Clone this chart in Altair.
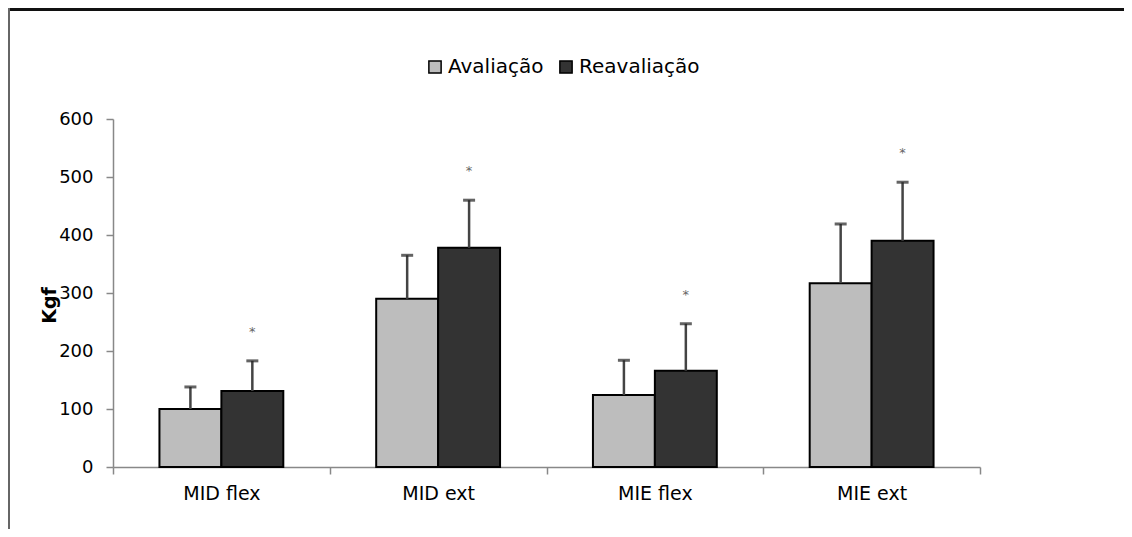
import altair as alt
import pandas as pd

categories = ["MID flex", "MID ext", "MIE flex", "MIE ext"]
series = ["Avaliação", "Reavaliação"]
aval_mean = [100, 290, 124, 317]
aval_sd = [38, 75, 60, 102]
reav_mean = [131, 378, 166, 390]
reav_sd = [52, 82, 81, 101]
y_ticks = [0, 100, 200, 300, 400, 500, 600]

rows = []
for i, c in enumerate(categories):
    rows.append({"cat": c, "serie": series[0], "mean": aval_mean[i], "top": aval_mean[i] + aval_sd[i], "star": ""})
    rows.append({"cat": c, "serie": series[1], "mean": reav_mean[i], "top": reav_mean[i] + reav_sd[i], "star": "*"})
df = pd.DataFrame(rows)

FONT = "DejaVu Sans"

x = alt.X("cat:N", sort=categories, title=None,
          scale=alt.Scale(paddingInner=0, paddingOuter=0),
          axis=alt.Axis(tickBand="extent", labelAngle=0, labelFontSize=19, labelFont=FONT,
                        labelColor="#000", labelPadding=10, tickSize=7, tickColor="#888",
                        domainColor="#888", domainWidth=1.5, tickWidth=1.5))
xo = alt.XOffset("serie:N", sort=series, scale=alt.Scale(paddingInner=0, paddingOuter=0.75))
yscale = alt.Scale(domain=[0, 600], nice=False)

bars = alt.Chart(df).mark_bar(stroke="black", strokeWidth=2).encode(
    x=x, xOffset=xo,
    y=alt.Y("mean:Q", scale=yscale, title="Kgf",
            axis=alt.Axis(values=y_ticks, grid=False, labelFontSize=18, labelFont=FONT,
                          labelColor="#000", labelPadding=13, tickSize=7, tickColor="#888",
                          tickWidth=1.5, domainColor="#888", domainWidth=1.5,
                          titleFont=FONT, titleFontSize=19, titleFontWeight="bold",
                          titleColor="#000", titleX=-64, titleY=186, titleAngle=-90,
                          titleAlign="center", titleBaseline="middle")),
    fill=alt.Fill("serie:N", sort=series, title=None,
                  scale=alt.Scale(domain=series, range=["#bdbdbd", "#333333"]),
                  legend=alt.Legend(orient="none", legendX=312, legendY=-62, direction="horizontal",
                                    symbolType="square", symbolSize=150, symbolStrokeColor="black",
                                    symbolStrokeWidth=1.5, labelFontSize=20, labelFont=FONT,
                                    labelColor="#000", labelOffset=3, columnPadding=12)),
)

err = alt.Chart(df).mark_rule(color="#444", strokeWidth=2.5).encode(
    x=x, xOffset=xo, y=alt.Y("mean:Q", scale=yscale), y2="top:Q")
caps = alt.Chart(df).mark_tick(color="#222", thickness=3, size=12, orient="horizontal").encode(
    x=x, xOffset=xo, y=alt.Y("top:Q", scale=yscale))
stars = alt.Chart(df).mark_text(dy=-29, fontSize=13, color="#666", font=FONT).encode(
    x=x, xOffset=xo, y=alt.Y("top:Q", scale=yscale), text="star:N")

frame_top = alt.Chart(df).mark_rule(color="#111", strokeWidth=3).encode(
    x=alt.value(-105), x2=alt.value(1011), y=alt.value(-110))
frame_left = alt.Chart(df).mark_rule(color="#666", strokeWidth=2).encode(
    x=alt.value(-104), y=alt.value(-111), y2=alt.value(420))

chart = alt.layer(bars, err, caps, stars, frame_top, frame_left).properties(
    width=867, height=348,
    autosize=alt.AutoSizeParams(type="none"),
    padding={"left": 105, "top": 111, "right": 144, "bottom": 62},
).configure(background="white").configure_view(strokeWidth=0)

chart.save("out.html", embed_options={"renderer": "svg", "actions": False})
